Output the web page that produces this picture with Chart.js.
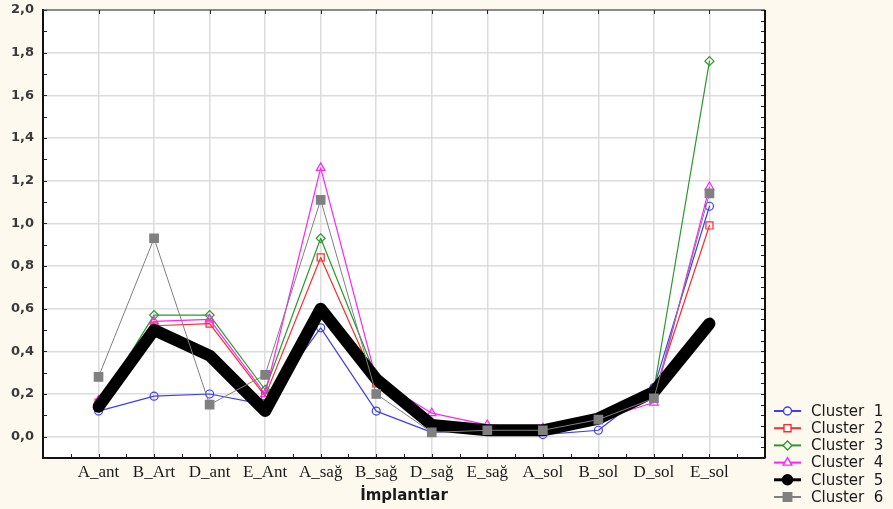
<!DOCTYPE html>
<html>
<head>
<meta charset="utf-8">
<script src="https://cdn.jsdelivr.net/npm/chart.js@4"></script>
<style>
  html, body { margin: 0; padding: 0; background: #fef9ef; }
  canvas { display: block; }
</style>
</head>
<body>
<canvas id="chartClusters" width="893" height="509"></canvas>
<script>
// values
const categories = ['A_ant', 'B_Art', 'D_ant', 'E_Ant', 'A_sağ', 'B_sağ', 'D_sağ', 'E_sağ', 'A_sol', 'B_sol', 'D_sol', 'E_sol'];
const clusterLabels = ['Cluster  1', 'Cluster  2', 'Cluster  3', 'Cluster  4', 'Cluster  5', 'Cluster  6'];

const cluster1 = [0.12, 0.19, 0.20, 0.15, 0.51, 0.12, 0.02, 0.03, 0.01, 0.03, 0.23, 1.08];
const cluster2 = [0.16, 0.52, 0.53, 0.19, 0.84, 0.25, 0.05, 0.03, 0.03, 0.08, 0.20, 0.99];
const cluster3 = [0.15, 0.57, 0.57, 0.22, 0.93, 0.28, 0.06, 0.03, 0.03, 0.08, 0.22, 1.76];
const cluster4 = [0.17, 0.54, 0.55, 0.20, 1.26, 0.27, 0.11, 0.055, 0.04, 0.08, 0.16, 1.17];
const cluster5 = [0.14, 0.50, 0.38, 0.12, 0.60, 0.27, 0.055, 0.03, 0.03, 0.085, 0.21, 0.53];
const cluster6 = [0.28, 0.93, 0.15, 0.29, 1.11, 0.20, 0.02, 0.03, 0.03, 0.08, 0.18, 1.14];

const yTicks = [0.0, 0.2, 0.4, 0.6, 0.8, 1.0, 1.2, 1.4, 1.6, 1.8, 2.0];
const xTicks = [1, 2, 3, 4, 5, 6, 7, 8, 9, 10, 11, 12];

const seriesValues = [cluster1, cluster2, cluster3, cluster4, cluster5, cluster6];
const seriesStyle = [
    { color: '#3d3dff', width: 1.2, point: 'circle', radius: 4, fill: 'rgba(0,0,0,0)', legendWidth: 2 },
    { color: '#ff2a2a', width: 1.2, point: 'rect', radius: 5, fill: 'rgba(0,0,0,0)', legendWidth: 2 },
    { color: '#2a9a2a', width: 1.2, point: 'rectRot', radius: 4.5, fill: 'rgba(0,0,0,0)', legendWidth: 2 },
    { color: '#ff22ff', width: 1.2, point: 'triangle', radius: 5, fill: 'rgba(0,0,0,0)', legendWidth: 2 },
    { color: '#000000', width: 12, point: 'circle', radius: 4, fill: '#000000', legendWidth: 3 },
    { color: '#808080', width: 1, point: 'rect', radius: 6, fill: '#808080', legendWidth: 2 }
];

const datasets = seriesValues.map((vals, idx) => {
    const s = seriesStyle[idx];
    return {
        label: clusterLabels[idx],
        data: vals.map((v, i) => ({ x: xTicks[i], y: v })),
        borderColor: s.color,
        borderWidth: s.width,
        pointStyle: s.point,
        pointRadius: s.radius,
        pointBorderWidth: 1.2,
        pointBorderColor: s.color,
        pointBackgroundColor: s.fill,
        borderJoinStyle: 'round',
        borderCapStyle: 'round',
        tension: 0,
        order: seriesValues.length - 1 - idx // later clusters drawn on top
    };
});

// cream page + white plot area
const backgroundPlugin = {
    id: 'bg',
    beforeDraw: (chart) => {
        const { ctx, chartArea: a } = chart;
        ctx.save();
        ctx.fillStyle = '#fef9ef';
        ctx.fillRect(0, 0, chart.width, chart.height);
        ctx.fillStyle = '#ffffff';
        ctx.fillRect(a.left, a.top, a.right - a.left, a.bottom - a.top);
        ctx.restore();
    }
};

// box frame and the small inner ticks
const framePlugin = {
    id: 'frame',
    afterDraw: (chart) => {
        const { ctx, chartArea: a } = chart;
        const xs = chart.scales.x, ys = chart.scales.y;
        ctx.save();
        ctx.strokeStyle = '#222';
        ctx.lineWidth = 1;
        ctx.beginPath();
        for (let v = -0.1; v <= 2.0001; v += 0.1) {
            const y = Math.round(ys.getPixelForValue(v)) + 0.5;
            ctx.moveTo(a.left, y); ctx.lineTo(a.left + 4, y);
        }
        for (let v = -0.1; v <= 2.0001; v += 0.05) {
            const y = Math.round(ys.getPixelForValue(v)) + 0.5;
            ctx.moveTo(a.right, y); ctx.lineTo(a.right - 4, y);
        }
        for (let v = 0.5; v < 13; v += 0.5) {
            const x = Math.round(xs.getPixelForValue(v)) + 0.5;
            ctx.moveTo(x, a.bottom); ctx.lineTo(x, a.bottom - 4);
        }
        xTicks.forEach(v => {
            const x = Math.round(xs.getPixelForValue(v)) + 0.5;
            ctx.moveTo(x, a.top); ctx.lineTo(x, a.top + 4);
        });
        ctx.stroke();

        ctx.strokeStyle = '#333';
        ctx.lineWidth = 1.2;
        ctx.beginPath();
        ctx.moveTo(a.left, a.top); ctx.lineTo(a.right, a.top);
        ctx.stroke();
        ctx.strokeStyle = '#111';
        ctx.lineWidth = 2;
        ctx.beginPath();
        ctx.moveTo(a.right, a.top); ctx.lineTo(a.right, a.bottom);
        ctx.stroke();
        ctx.restore();
    }
};

// legend in the lower right corner, line + marker like the original
const legendPlugin = {
    id: 'sideLegend',
    afterDraw: (chart) => {
        const { ctx, chartArea: a } = chart;
        const x0 = a.right + 9, x1 = a.right + 36, tx = a.right + 46;
        const step = 17.2;
        const top = a.bottom - 47;
        ctx.save();
        chart.data.datasets.forEach((ds, i) => {
            const s = seriesStyle[i];
            const y = top + i * step;
            ctx.strokeStyle = s.color;
            ctx.lineWidth = s.legendWidth;
            ctx.beginPath();
            ctx.moveTo(x0, y); ctx.lineTo(x1, y);
            ctx.stroke();
            ctx.fillStyle = s.fill === 'rgba(0,0,0,0)' ? '#ffffff' : s.fill;
            ctx.strokeStyle = s.color;
            ctx.lineWidth = 1.4;
            if (Chart.helpers && Chart.helpers.drawPoint) {
                Chart.helpers.drawPoint(ctx, { pointStyle: s.point, radius: i === 4 ? 5 : s.radius, borderWidth: 1.4, rotation: 0 }, (x0 + x1) / 2, y);
            }
            ctx.fillStyle = '#1a1a1a';
            ctx.font = '15px "DejaVu Sans"';
            ctx.textBaseline = 'middle';
            ctx.textAlign = 'left';
            ctx.fillText(ds.label, tx, y + 1);
        });
        ctx.restore();
    }
};

Chart.defaults.font.family = '"DejaVu Sans", sans-serif';

new Chart(document.getElementById('chartClusters'), {
    type: 'line',
    data: { datasets: datasets },
    options: {
        responsive: false,
        animation: false,
        layout: { padding: { top: 10, right: 128, left: 0, bottom: 0 } },
        plugins: {
            legend: { display: false },
            tooltip: { enabled: false }
        },
        scales: {
            x: {
                type: 'linear',
                min: 0,
                max: 13,
                afterBuildTicks: (scale) => { scale.ticks = xTicks.map(v => ({ value: v })); },
                afterFit: (scale) => { scale.height = 51; scale.paddingLeft = 0; scale.paddingRight = 0; },
                ticks: {
                    autoSkip: false,
                    maxRotation: 0,
                    padding: 4,
                    color: '#1a1a1a',
                    font: { family: '"Liberation Serif", serif', size: 17 },
                    callback: (v) => categories[v - 1] || ''
                },
                grid: { color: '#dcdcdc', lineWidth: 1.5, drawTicks: false },
                border: { color: '#111', width: 2 },
                title: {
                    display: true,
                    text: 'İmplantlar',
                    color: '#1a1a1a',
                    font: { family: '"DejaVu Sans", sans-serif', size: 15, weight: 'bold' },
                    padding: { top: 4, bottom: 4 }
                }
            },
            y: {
                min: -0.1,
                max: 2.0,
                afterBuildTicks: (scale) => { scale.ticks = yTicks.map(v => ({ value: v })); },
                afterFit: (scale) => { scale.width = 43; scale.paddingTop = 0; scale.paddingBottom = 0; },
                ticks: {
                    padding: 9,
                    color: '#3a3a3a',
                    font: { family: '"DejaVu Sans", sans-serif', size: 13, weight: 'bold' },
                    callback: (v) => v.toFixed(1).replace('.', ',')
                },
                grid: { color: '#dcdcdc', lineWidth: 1.5, drawTicks: false },
                border: { color: '#111', width: 2 }
            }
        }
    },
    plugins: [backgroundPlugin, framePlugin, legendPlugin]
});
</script>
</body>
</html>
